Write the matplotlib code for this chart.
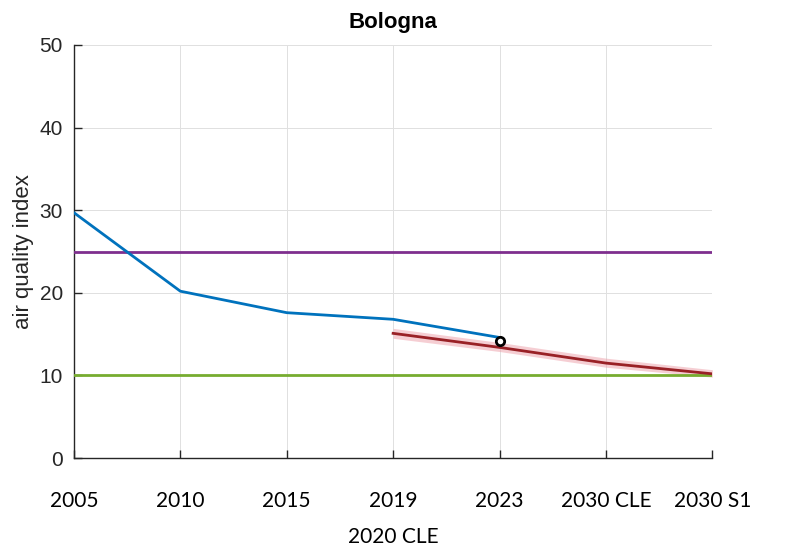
import matplotlib
matplotlib.use("Agg")
import matplotlib.pyplot as plt
import numpy as np

plt.rcParams["font.family"] = ["Liberation Sans", "DejaVu Sans"]

# Categories along the x axis
categories = ["2005", "2010", "2015", "2019\n2020 CLE", "2023", "2030 CLE", "2030 S1"]

# Observed air quality index (2005 .. 2023)
observed = [29.7, 20.2, 17.6, 16.8, 14.6]
# Latest measured point
latest_value = 14.2
# Scenario projection (2019/2020 CLE .. 2030 S1) with uncertainty band
projection = [15.1, 13.4, 11.5, 10.2]
projection_lo = [14.5, 12.9, 11.0, 9.8]
projection_hi = [15.7, 14.0, 12.1, 10.7]
# Reference thresholds
threshold_high = 25
threshold_low = 10

blue = (0.0, 0.447, 0.741)
purple = (0.494, 0.184, 0.556)
green = (0.466, 0.674, 0.188)
dark_red = (0.60, 0.13, 0.15)
pink = (0.93, 0.62, 0.66)
dark_gray = (0.15, 0.15, 0.15)

fig = plt.figure(figsize=(7.95, 5.48), dpi=100)
ax = fig.add_axes([0.093, 0.164, 0.803, 0.754])

x_all = np.arange(len(categories))
x_obs = x_all[:len(observed)]
x_proj = x_all[3:3 + len(projection)]

ax.axhline(threshold_high, color=purple, lw=2, zorder=3)
ax.axhline(threshold_low, color=green, lw=2, zorder=3)

ax.fill_between(x_proj, projection_lo, projection_hi, color=pink, alpha=0.5,
                lw=0, zorder=2)
ax.plot(x_proj, projection, color=dark_red, lw=2, zorder=4)
ax.plot(x_obs, observed, color=blue, lw=2, zorder=5)
ax.plot([x_obs[-1]], [latest_value], marker="o", ms=6, mfc="white",
        mec="black", mew=2, zorder=6)

ax.set_xlim(0, len(categories) - 1)
ax.set_ylim(0, 50)
ax.set_yticks([0, 10, 20, 30, 40, 50])
ax.set_yticklabels(["0", "10", "20", "30", "40", "50"], fontsize=15,
                   color=dark_gray)
ax.set_xticks(x_all)
ax.set_xticklabels(categories, fontsize=15, family="Lato", color="black",
                   linespacing=2.0)

ax.grid(True, color=(0.88, 0.88, 0.88), lw=0.7)
ax.set_axisbelow(True)
for side in ("top", "right"):
    ax.spines[side].set_visible(False)
for side in ("left", "bottom"):
    ax.spines[side].set_color(dark_gray)
    ax.spines[side].set_linewidth(1)
ax.tick_params(direction="in", length=6, width=1, color=dark_gray)
ax.tick_params(axis="x", pad=24)
ax.tick_params(axis="y", pad=8)

ax.set_ylabel("air quality index", fontsize=16, color=dark_gray, labelpad=4)
ax.set_title("Bologna", fontsize=16, fontweight="bold", pad=12)

fig.savefig("out.png", dpi=100)
